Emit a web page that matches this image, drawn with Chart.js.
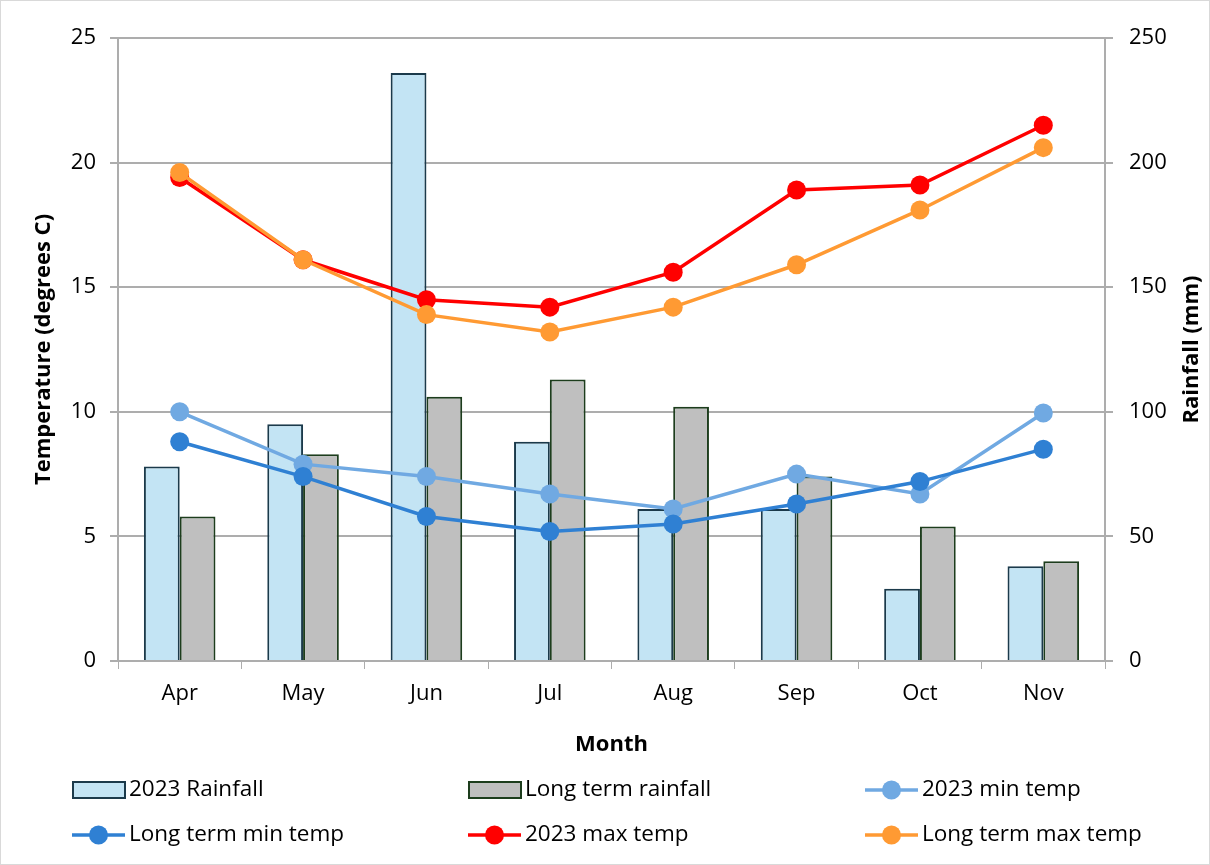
<!DOCTYPE html>
<html>
<head>
<meta charset="utf-8">
<script src="https://cdn.jsdelivr.net/npm/chart.js@4.4.1/dist/chart.umd.min.js"></script>
<style>
  html, body { margin: 0; padding: 0; background: #fff; }
  #wrap { width: 1210px; height: 865px; position: relative; box-sizing: border-box; border: 1px solid #d9d9d9; }
</style>
</head>
<body>
<div id="wrap"><canvas id="climateChart"></canvas></div>
<script>
const months = ["Apr", "May", "Jun", "Jul", "Aug", "Sep", "Oct", "Nov"];
const rain2023 = [78, 95, 236, 88, 61, 61, 29, 38];
const rainLongTerm = [58, 83, 106, 113, 102, 74, 54, 40];
const minTemp2023 = [10.0, 7.9, 7.4, 6.7, 6.1, 7.5, 6.7, 9.95];
const minTempLongTerm = [8.8, 7.4, 5.8, 5.2, 5.5, 6.3, 7.2, 8.5];
const maxTemp2023 = [19.4, 16.1, 14.5, 14.2, 15.6, 18.9, 19.1, 21.5];
const maxTempLongTerm = [19.6, 16.1, 13.9, 13.2, 14.2, 15.9, 18.1, 20.6];

const FONT = "'Open Sans', 'Noto Sans', sans-serif";
const gridGrey = "#adadad";

function lineSet(label, data, color, order) {
    return {
        type: "line",
        label: label,
        data: data,
        yAxisID: "y",
        borderColor: color,
        backgroundColor: color,
        borderWidth: 3.5,
        pointRadius: 9.5,
        pointHoverRadius: 9.5,
        pointBorderWidth: 0,
        tension: 0,
        order: order
    };
}

// legend drawn on the canvas in a 3 x 2 grid, plus the right axis title
const gridLegend = {
    id: "gridLegend",
    afterDraw(chart) {
        const ctx = chart.ctx;
        const cols = [71, 467, 864];
        const rows = [789, 834];
        ctx.save();
        ctx.font = "22.5px " + FONT;
        ctx.textBaseline = "middle";
        chart.data.datasets.forEach((ds, i) => {
            const x = cols[i % 3];
            const y = rows[Math.floor(i / 3)];
            if (ds.type === "line") {
                ctx.strokeStyle = ds.borderColor;
                ctx.lineWidth = 3.5;
                ctx.beginPath();
                ctx.moveTo(x, y);
                ctx.lineTo(x + 53, y);
                ctx.stroke();
                ctx.fillStyle = ds.backgroundColor;
                ctx.beginPath();
                ctx.arc(x + 26.5, y, 9.5, 0, Math.PI * 2);
                ctx.fill();
            } else {
                ctx.fillStyle = ds.backgroundColor;
                ctx.fillRect(x + 1, y - 8, 52, 16);
                ctx.strokeStyle = ds.borderColor;
                ctx.lineWidth = 2;
                ctx.strokeRect(x + 1, y - 8, 52, 16);
            }
            ctx.fillStyle = "#000";
            ctx.fillText(ds.label, x + 57, y);
        });

        // right axis title, reading bottom to top like the left one
        const area = chart.chartArea;
        ctx.font = "bold 22px " + FONT;
        ctx.textAlign = "center";
        ctx.translate(1191, (area.top + area.bottom) / 2);
        ctx.rotate(-Math.PI / 2);
        ctx.fillText("Rainfall (mm)", 0, 0);
        ctx.restore();
    }
};

const ctx = document.getElementById("climateChart").getContext("2d");

new Chart(ctx, {
    data: {
        labels: months,
        datasets: [
            {
                type: "bar",
                label: "2023 Rainfall",
                data: rain2023,
                yAxisID: "y1",
                backgroundColor: "#c3e4f4",
                borderColor: "#1b3a4b",
                borderWidth: 2,
                categoryPercentage: 0.58,
                barPercentage: 1.0,
                order: 10
            },
            {
                type: "bar",
                label: "Long term rainfall",
                data: rainLongTerm,
                yAxisID: "y1",
                backgroundColor: "#bfbfbf",
                borderColor: "#1d3d1d",
                borderWidth: 2,
                categoryPercentage: 0.58,
                barPercentage: 1.0,
                order: 10
            },
            lineSet("2023 min temp", minTemp2023, "#70a9e2", 4),
            lineSet("Long term min temp", minTempLongTerm, "#2f80d3", 3),
            lineSet("2023 max temp", maxTemp2023, "#ff0000", 2),
            lineSet("Long term max temp", maxTempLongTerm, "#ff9a33", 1)
        ]
    },
    options: {
        responsive: true,
        maintainAspectRatio: false,
        animation: false,
        layout: { padding: { left: 0, right: 0, top: 37, bottom: 100 } },
        plugins: {
            legend: { display: false },
            tooltip: { enabled: false }
        },
        scales: {
            x: {
                offset: true,
                grid: {
                    offset: true,
                    drawOnChartArea: false,
                    color: gridGrey,
                    tickLength: 8
                },
                border: { color: gridGrey, width: 2 },
                ticks: { color: "#000", font: { family: FONT, size: 22 }, padding: 12 },
                title: {
                    display: true,
                    text: "Month",
                    color: "#000",
                    font: { family: FONT, size: 22, weight: "bold" },
                    padding: { top: 16, bottom: 6 }
                },
                afterFit(scale) { scale.height = 103; }
            },
            y: {
                position: "left",
                min: 0,
                max: 25,
                ticks: { stepSize: 5, color: "#000", font: { family: FONT, size: 22 }, padding: 14 },
                grid: { color: gridGrey, lineWidth: 2, tickLength: 8 },
                border: { color: gridGrey, width: 2 },
                title: {
                    display: true,
                    text: "Temperature (degrees C)",
                    color: "#000",
                    font: { family: FONT, size: 22, weight: "bold" },
                    padding: { top: 30 }
                },
                afterFit(scale) { scale.width = 117; }
            },
            y1: {
                position: "right",
                min: 0,
                max: 250,
                ticks: { stepSize: 50, color: "#000", font: { family: FONT, size: 22 }, padding: 16 },
                grid: { drawOnChartArea: false, color: gridGrey, lineWidth: 2, tickLength: 8 },
                border: { color: gridGrey, width: 2 },
                afterFit(scale) { scale.width = 104; }
            }
        }
    },
    plugins: [gridLegend]
});
</script>
</body>
</html>
